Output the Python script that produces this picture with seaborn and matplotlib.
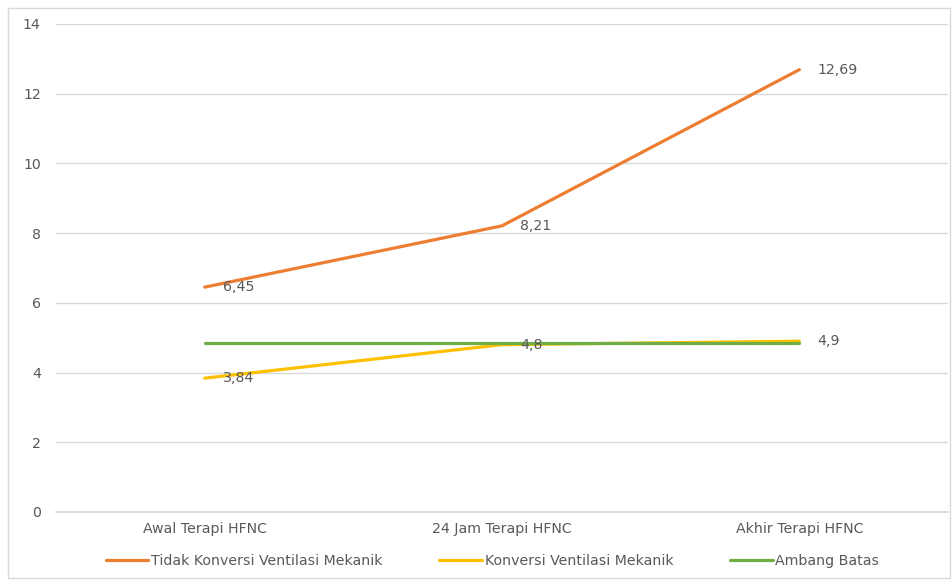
import matplotlib
matplotlib.use("Agg")
import matplotlib.pyplot as plt
import seaborn as sns
from matplotlib.patches import Rectangle

# data
categories = ["Awal Terapi HFNC", "24 Jam Terapi HFNC", "Akhir Terapi HFNC"]
tidak_konversi = [6.45, 8.21, 12.69]
konversi = [3.84, 4.8, 4.9]
ambang_batas = [4.85, 4.85, 4.85]
series_names = ["Tidak Konversi Ventilasi Mekanik", "Konversi Ventilasi Mekanik", "Ambang Batas"]
yticks = [0, 2, 4, 6, 8, 10, 12, 14]

colors = ["#ED7D31", "#FFC000", "#70AD47"]
text_color = "#595959"
grid_color = "#D9D9D9"

sns.set_theme(style="white")
plt.rcParams["font.family"] = ["DejaVu Sans"]
fs = 10.2

fig = plt.figure(figsize=(9.53, 5.81), dpi=100)
ax = fig.add_axes([0.0588, 0.1188, 0.936, 0.8399])

all_series = [tidak_konversi, konversi, ambang_batas]
for vals, name, col in zip(all_series, series_names, colors):
    sns.lineplot(x=categories, y=vals, ax=ax, color=col, lw=2.3, label=name,
                 sort=False, solid_capstyle="round")

# data labels (only the first two series)
for vals in [tidak_konversi, konversi]:
    for i, v in enumerate(vals):
        lab = f"{v:g}".replace(".", ",")
        ax.annotate(lab, (i, v), xytext=(13, 0), textcoords="offset points",
                    ha="left", va="center", fontsize=fs, color=text_color)

ax.set_xlim(-0.5, 2.5)
ax.set_ylim(0, 14)
ax.set_yticks(yticks)
ax.set_yticklabels([str(t) for t in yticks])
ax.grid(axis="y", color=grid_color, lw=1)
ax.set_axisbelow(True)
for s in ["top", "right", "left"]:
    ax.spines[s].set_visible(False)
ax.spines["bottom"].set_color(grid_color)
ax.tick_params(axis="y", length=0, pad=11, labelsize=fs, labelcolor=text_color)
ax.tick_params(axis="x", length=0, pad=7, labelsize=fs, labelcolor=text_color)
ax.set_xlabel("")
ax.set_ylabel("")

ax.legend_.remove()
handles, labels = ax.get_legend_handles_labels()
leg = fig.legend(handles, labels, loc="center", bbox_to_anchor=(0.517, 0.034), ncol=3,
                 frameon=False, fontsize=fs, handlelength=3.0, handletextpad=0.2,
                 columnspacing=4.0)
for t in leg.get_texts():
    t.set_color(text_color)

# outer chart border
fig.patches.append(Rectangle((8 / 953, 3 / 581), 942 / 953, 570 / 581, transform=fig.transFigure,
                             fill=False, edgecolor=grid_color, lw=1))

fig.savefig("out.png", dpi=100)
